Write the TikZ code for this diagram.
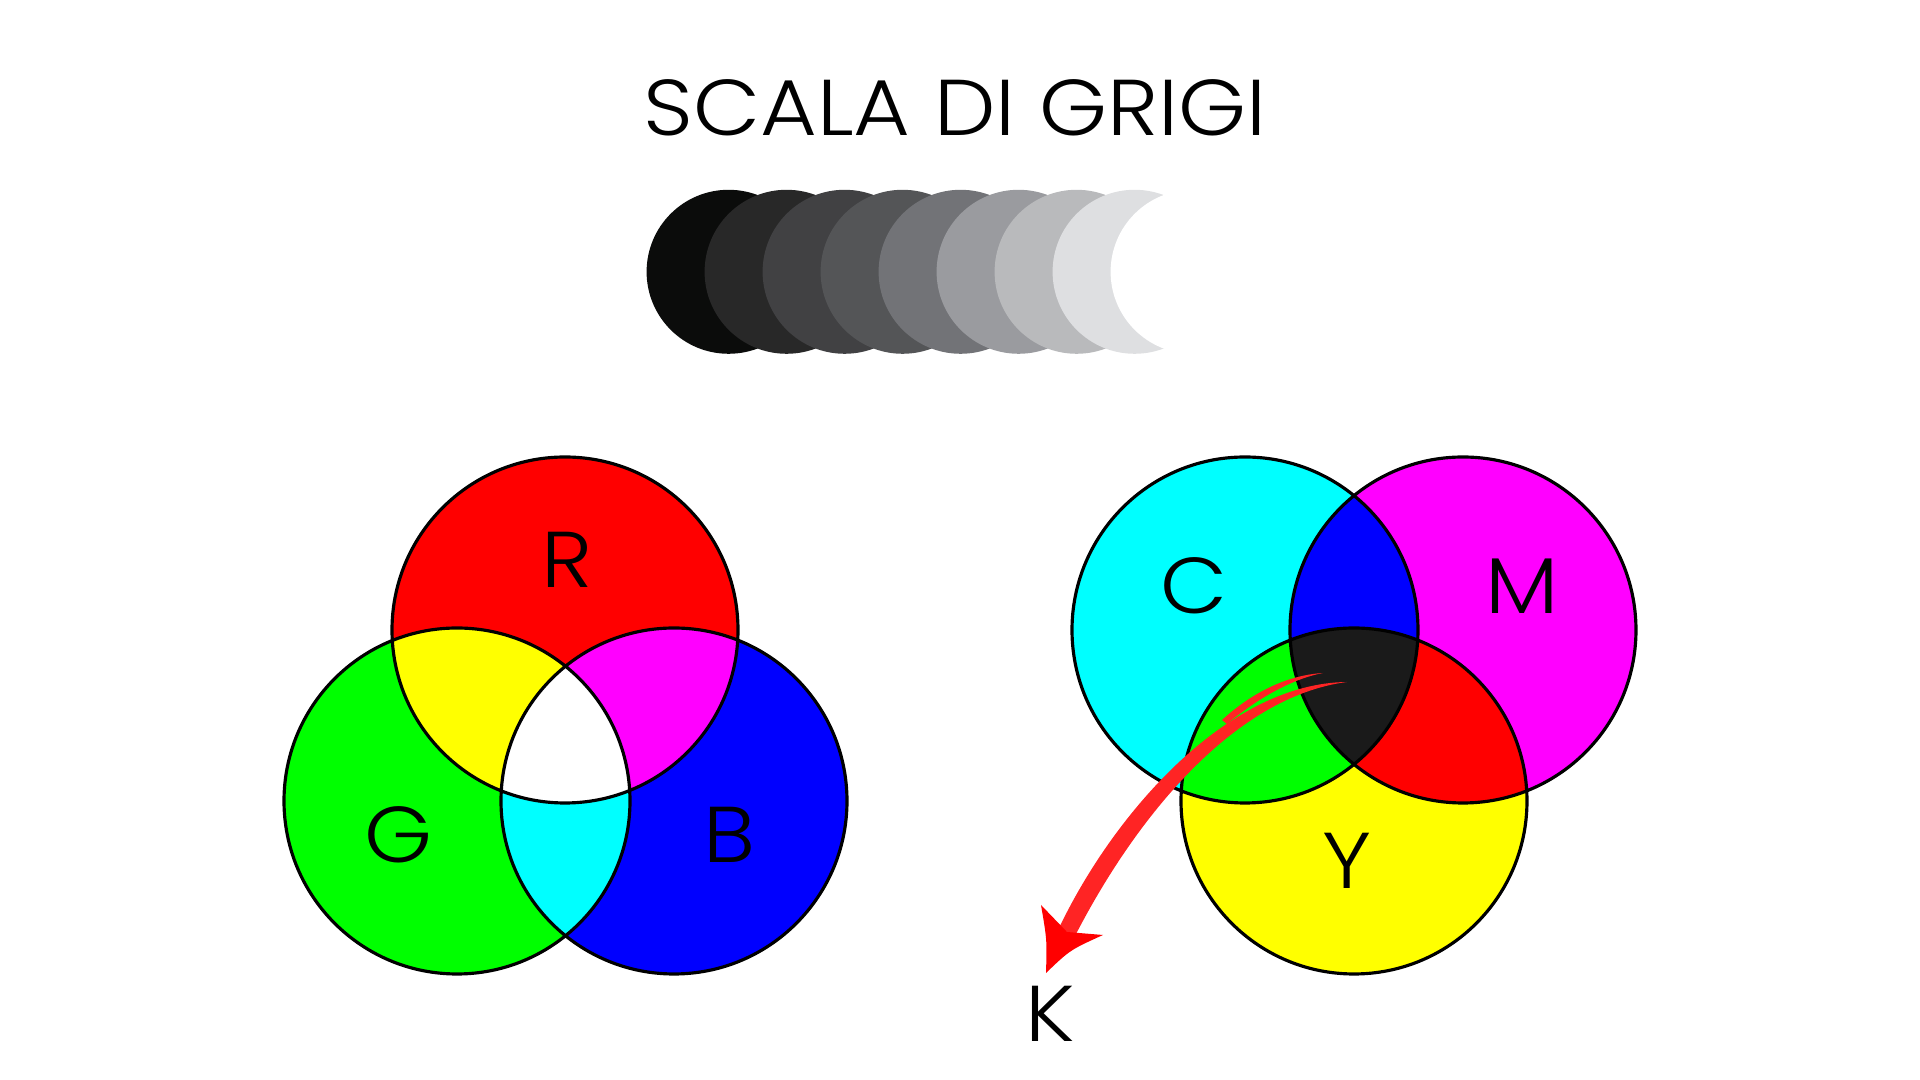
\documentclass[tikz,border=0pt]{standalone}
\usepackage{fontspec}
\setmainfont{Poppins}[UprightFont=* Light, FakeStretch=1.1]
\definecolor{grigio0}{HTML}{0B0C0B}
\definecolor{grigio1}{HTML}{282828}
\definecolor{grigio2}{HTML}{414143}
\definecolor{grigio3}{HTML}{545557}
\definecolor{grigio4}{HTML}{727377}
\definecolor{grigio5}{HTML}{9A9B9F}
\definecolor{grigio6}{HTML}{B9BABC}
\definecolor{grigio7}{HTML}{DEDFE1}
\definecolor{rosso}{rgb}{1,0,0}
\definecolor{verde}{rgb}{0,1,0}
\definecolor{blu}{rgb}{0,0,1}
\definecolor{ciano}{rgb}{0,1,1}
\definecolor{magenta}{rgb}{1,0,1}
\definecolor{giallo}{rgb}{1,1,0}
\definecolor{nerok}{HTML}{1A1A1A}
\definecolor{rossofreccia}{HTML}{FF2424}
\begin{document}
\begin{tikzpicture}[x=0.01cm, y=-0.01cm,
    lettera/.style={inner sep=0pt, font=\fontsize{22.5}{27}\selectfont},
    bordo/.style={draw=black, line width=0.9pt}]

    \useasboundingbox (0,0) rectangle (1920,1080);

    % 1. Titolo
    \node[lettera] (titolo) at (955,108) {SCALA DI GRIGI};

    % 2. Scala di grigi (cerchi sovrapposti)
    \foreach \g [count=\i from 0] in {grigio0,grigio1,grigio2,grigio3,grigio4,grigio5,grigio6,grigio7,white}
        \fill[\g] (728.6+58*\i, 271.8) circle[radius=82];

    % 3. Sintesi additiva (RGB)
    \coordinate (cR) at (565,630);
    \coordinate (cG) at (457,801);
    \coordinate (cB) at (674,801);
    \fill[rosso] (cR) circle[radius=173];
    \fill[verde] (cG) circle[radius=173];
    \fill[blu]   (cB) circle[radius=173];
    \begin{scope}
        \clip (cR) circle[radius=173];
        \fill[giallo]  (cG) circle[radius=173];
        \fill[magenta] (cB) circle[radius=173];
    \end{scope}
    \begin{scope}
        \clip (cG) circle[radius=173];
        \fill[ciano] (cB) circle[radius=173];
        \clip (cR) circle[radius=173];
        \fill[white] (cB) circle[radius=173];
    \end{scope}
    \draw[bordo] (cR) circle[radius=173] (cG) circle[radius=173] (cB) circle[radius=173];
    \node[lettera] (R) at (567,560) {R};
    \node[lettera] (G) at (399,835) {G};
    \node[lettera] (B) at (729,835) {B};

    % 4. Sintesi sottrattiva (CMY)
    \coordinate (cC) at (1245,630);
    \coordinate (cM) at (1463,630);
    \coordinate (cY) at (1354,801);
    \fill[ciano]   (cC) circle[radius=173];
    \fill[magenta] (cM) circle[radius=173];
    \fill[giallo]  (cY) circle[radius=173];
    \begin{scope}
        \clip (cC) circle[radius=173];
        \fill[blu]   (cM) circle[radius=173];
        \fill[verde] (cY) circle[radius=173];
    \end{scope}
    \begin{scope}
        \clip (cM) circle[radius=173];
        \fill[rosso] (cY) circle[radius=173];
        \clip (cC) circle[radius=173];
        \fill[nerok] (cY) circle[radius=173];
    \end{scope}
    \draw[bordo] (cC) circle[radius=173] (cM) circle[radius=173] (cY) circle[radius=173];
    \node[lettera] (C) at (1194,586) {C};
    \node[lettera] (M) at (1522,586) {M};
    \node[lettera] (Y) at (1347,861) {Y};

    % 5. Freccia verso il nero (K)
    \node[lettera] (K) at (1050,1014) {K};
    \coordinate (coda) at (1347,682);
    \coordinate (coda2) at (1323,673);
    \coordinate (punta) at (1046,973);
    \fill[rossofreccia] (coda) .. controls (1230,683) and (1116,809) .. (1059,928)
        -- (1075,936) .. controls (1134,821) and (1232,697) .. (coda) -- cycle;
    \fill[rossofreccia] (coda2) .. controls (1290,675) and (1255,690) .. (1222,720)
        -- (1227,724) .. controls (1258,698) and (1292,679) .. (coda2) -- cycle;
    \fill[rosso] (punta) .. controls (1047,940) .. (1041,905) -- (1067,932)
        -- (1103,935) .. controls (1070,950) .. (punta) -- cycle;

\end{tikzpicture}
\end{document}
